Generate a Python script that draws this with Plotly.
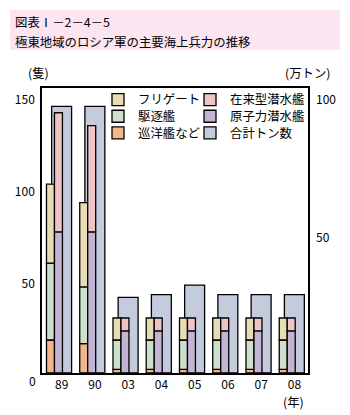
import numpy as np
import plotly.graph_objects as go

# ---- data ----
years = ["89", "90", "03", "04", "05", "06", "07", "08"]
cruiser = [18, 16, 2, 2, 2, 2, 2, 2]          # 巡洋艦など (隻)
destroyer = [42, 31, 16, 16, 16, 16, 16, 16]  # 駆逐艦 (隻)
frigate = [43, 46, 12, 12, 12, 12, 12, 12]    # フリゲート (隻)
nuclear_sub = [77, 77, 23, 23, 23, 23, 23, 23]  # 原子力潜水艦 (隻)
conv_sub = [65, 58, 7, 7, 7, 7, 7, 7]          # 在来型潜水艦 (隻)
tonnage = [97, 97, 27.5, 28.5, 32, 28.5, 28.5, 28.5]  # 合計トン数 (万トン)

left_ticks = [50, 100, 150]
right_ticks = [50, 100]

# ---- styling ----
FONT = "Noto Sans CJK JP"
FS = 12.4
C_FRIG = "#E8DCB4"
C_DEST = "#CDE0CD"
C_CRUI = "#F2B68A"
C_CONV = "#F0C4C4"
C_NUC = "#C4B4D4"
C_TON = "#C3CBDD"
LINE = dict(color="black", width=1.3)

W, H = 350, 415
L, R, T, B = 42, 42, 88, 42
PW, PH = W - L - R, H - T - B


def px(x):
    return (x - L) / PW


def py(y):
    return (H - B - y) / PH


LEFT_MAX = 155.5
RIGHT_MAX = LEFT_MAX / 1.5

cru = np.array(cruiser, float)
des = np.array(destroyer, float)
fri = np.array(frigate, float)
nuc = np.array(nuclear_sub, float)
con = np.array(conv_sub, float)

fig = go.Figure()

fig.add_bar(x=years, y=tonnage, name="合計トン数", yaxis="y", offset=-0.21, width=0.6,
            marker=dict(color=C_TON, line=LINE), legend="legend6")

OFF1, OFF2, BW = -0.365, -0.125, 0.24
fig.add_bar(x=years, y=cru, base=0, name="巡洋艦など", yaxis="y2", offset=OFF1, width=BW,
            marker=dict(color=C_CRUI, line=LINE), legend="legend3")
fig.add_bar(x=years, y=des, base=cru, name="駆逐艦", yaxis="y2", offset=OFF1, width=BW,
            marker=dict(color=C_DEST, line=LINE), legend="legend2")
fig.add_bar(x=years, y=fri, base=cru + des, name="フリゲート", yaxis="y2", offset=OFF1, width=BW,
            marker=dict(color=C_FRIG, line=LINE), legend="legend")
fig.add_bar(x=years, y=nuc, base=0, name="原子力潜水艦", yaxis="y2", offset=OFF2, width=BW,
            marker=dict(color=C_NUC, line=LINE), legend="legend5")
fig.add_bar(x=years, y=con, base=nuc, name="在来型潜水艦", yaxis="y2", offset=OFF2, width=BW,
            marker=dict(color=C_CONV, line=LINE), legend="legend4")

font = dict(family=FONT, size=FS, color="black")


def leg(xc, yc):
    return dict(x=px(xc - 20), y=py(yc), xanchor="left", yanchor="middle",
                bgcolor="rgba(0,0,0,0)", borderwidth=0, font=font,
                itemclick=False, itemdoubleclick=False)


fig.update_layout(
    template="none",
    width=W, height=H,
    margin=dict(l=L, r=R, t=T, b=B, pad=0, autoexpand=False),
    paper_bgcolor="white", plot_bgcolor="white",
    font=font,
    barmode="overlay",
    showlegend=True,
    legend=leg(118, 100),
    legend2=leg(118, 116.7),
    legend3=leg(118, 133.3),
    legend4=leg(210, 100),
    legend5=leg(210, 116.7),
    legend6=leg(210, 133.3),
    xaxis=dict(type="category", range=[-0.5, 7.5], showline=True, mirror=True,
               linecolor="black", linewidth=1.5, ticks="", showgrid=False,
               automargin=False, tickfont=dict(family=FONT, size=12),
               ticklabelshift=3),
    yaxis=dict(range=[0, RIGHT_MAX], side="right", tickvals=right_ticks,
               showgrid=False, zeroline=False, showline=False, ticks="",
               automargin=False, tickfont=dict(family=FONT, size=12),
               ticklabelstandoff=7, ticklabelshift=2),
    yaxis2=dict(range=[0, LEFT_MAX], overlaying="y", side="left", tickvals=left_ticks,
                showgrid=False, zeroline=False, showline=True, mirror=True,
                linecolor="black", linewidth=1.5, ticks="", automargin=False,
                tickfont=dict(family=FONT, size=12), ticklabelstandoff=3,
                ticklabelshift=2),
)

fig.add_shape(type="rect", xref="paper", yref="paper",
              x0=px(10), x1=px(340), y0=py(50), y1=py(10),
              fillcolor="#FCE4F0", line=dict(width=0), layer="below")

ann = []
ann.append(dict(text="図表Ⅰ－2－4－5", x=px(13), y=py(21.7), xanchor="left", yanchor="middle"))
ann.append(dict(text="極東地域のロシア軍の主要海上兵力の推移", x=px(13), y=py(41.7),
                xanchor="left", yanchor="middle"))
ann.append(dict(text="(隻)", x=px(38.5), y=py(73), xanchor="center", yanchor="middle"))
ann.append(dict(text="(万トン)", x=px(307.5), y=py(73), xanchor="center", yanchor="middle"))
ann.append(dict(text="(年)", x=px(293.5), y=py(402), xanchor="center", yanchor="middle"))
ann.append(dict(text="0", x=px(32), y=py(380.7), xanchor="center", yanchor="middle",
                font=dict(family=FONT, size=12, color="black")))
for a in ann:
    a.update(xref="paper", yref="paper", showarrow=False)
    a.setdefault("font", font)
    fig.add_annotation(**a)

fig.write_html("out.html")
